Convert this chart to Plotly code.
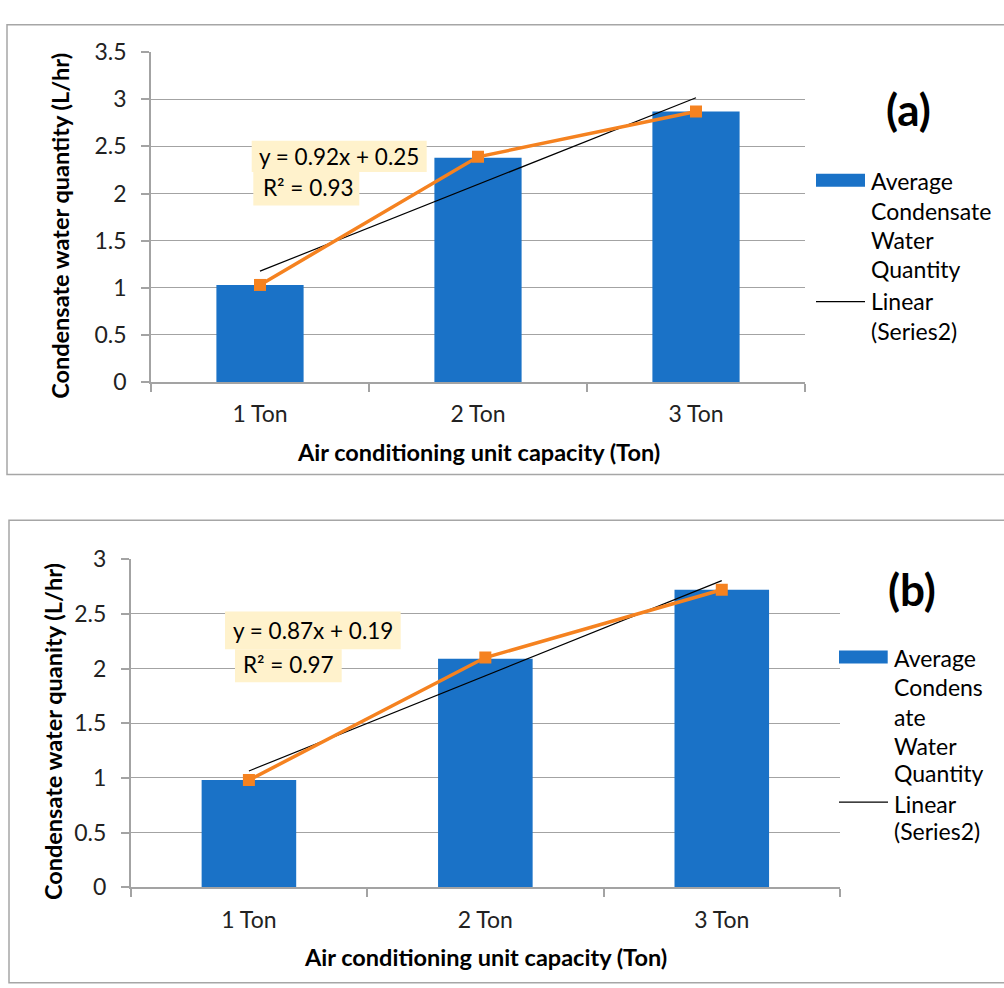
import numpy as np
import plotly.graph_objects as go

# ---------------- data ----------------
categories = ["1 Ton", "2 Ton", "3 Ton"]
capacity_index = [1, 2, 3]
avg_condensate_a = [1.03, 2.38, 2.87]   # bars, panel (a)
series2_a = [1.03, 2.39, 2.87]          # orange line, panel (a)
avg_condensate_b = [0.98, 2.09, 2.72]   # bars, panel (b)
series2_b = [0.98, 2.10, 2.72]          # orange line, panel (b)
y_ticks_a = [0, 0.5, 1, 1.5, 2, 2.5, 3, 3.5]
y_ticks_b = [0, 0.5, 1, 1.5, 2, 2.5, 3]
eq_a = ["y = 0.92x + 0.25", "R² = 0.93"]
eq_b = ["y = 0.87x + 0.19", "R² = 0.97"]
legend_a = ["Average", "Condensate", "Water", "Quantity"]
legend_b = ["Average", "Condens", "ate", "Water", "Quantity"]
trend_label = ["Linear", "(Series2)"]

W, H = 1004, 988
FONT = "Lato"
BLUE = "#1A72C7"
ORANGE = "#F58220"
GRID = "#A3A3A3"


def X(px):
    return px / W


def Y(py):
    return 1 - py / H


def trend(vals):
    k, b = np.polyfit(capacity_index, vals, 1)
    return [k * x + b for x in capacity_index]


fig = go.Figure()

panels = [
    dict(xa="x", ya="y", bars=avg_condensate_a, line=series2_a),
    dict(xa="x2", ya="y2", bars=avg_condensate_b, line=series2_b),
]
for p in panels:
    fig.add_trace(go.Bar(x=categories, y=p["bars"], width=0.4, marker=dict(color=BLUE, line=dict(width=0)),
                         xaxis=p["xa"], yaxis=p["ya"], showlegend=False))
    fig.add_trace(go.Scatter(x=categories, y=trend(p["line"]), mode="lines",
                             line=dict(color="black", width=1.2),
                             xaxis=p["xa"], yaxis=p["ya"], showlegend=False))
    fig.add_trace(go.Scatter(x=categories, y=p["line"], mode="lines+markers",
                             line=dict(color=ORANGE, width=3.5),
                             marker=dict(symbol="square", size=12, color=ORANGE),
                             xaxis=p["xa"], yaxis=p["ya"], showlegend=False))

tickfont = dict(family=FONT, size=23, color="#222222")
xcommon = dict(type="category", showgrid=False, showline=True, linecolor=GRID, linewidth=1.5,
               ticks="outside", ticklen=8, tickcolor=GRID, tickwidth=1.5, tickson="boundaries",
               tickfont=tickfont, ticklabelstandoff=11, fixedrange=True)
ycommon = dict(showgrid=True, gridcolor=GRID, gridwidth=1.3, showline=True, linecolor=GRID,
               linewidth=1.5, ticks="outside", ticklen=8, tickcolor=GRID, tickwidth=1.5,
               tickfont=tickfont, ticklabelstandoff=10, zeroline=False, fixedrange=True)

fig.update_layout(
    width=W, height=H, margin=dict(l=0, r=0, t=0, b=0),
    paper_bgcolor="white", plot_bgcolor="white", showlegend=False,
    xaxis=dict(domain=[X(151), X(805)], anchor="y", **xcommon),
    yaxis=dict(domain=[Y(377.7), Y(38.3)], anchor="x", range=[0, 3.5], tickvals=y_ticks_a,
               ticktext=[f"{v:g}" for v in y_ticks_a], **ycommon),
    xaxis2=dict(domain=[X(130.7), X(840)], anchor="y2", **xcommon),
    yaxis2=dict(domain=[Y(897.7), Y(560)], anchor="x2", range=[0, 3], tickvals=y_ticks_b,
                ticktext=[f"{v:g}" for v in y_ticks_b], **ycommon),
)

shapes = []
annotations = []

# panel borders
shapes.append(dict(type="rect", xref="paper", yref="paper", x0=X(7), x1=X(1012), y0=Y(473), y1=Y(10),
                   line=dict(color="#A6A6A6", width=1.5), fillcolor="rgba(0,0,0,0)", layer="below"))
shapes.append(dict(type="rect", xref="paper", yref="paper", x0=X(9), x1=X(1012), y0=Y(996), y1=Y(520),
                   line=dict(color="#A6A6A6", width=1.5), fillcolor="rgba(0,0,0,0)", layer="below"))

txt = dict(family=FONT, size=23, color="black")
eqfont = dict(family=FONT, size=22.5, color="black")
bold_title = dict(family=FONT, size=23.5, color="black", weight="bold")


def add_text(x, y, s, font, xanchor="center", yanchor="middle", angle=0):
    annotations.append(dict(x=X(x), y=Y(y), xref="paper", yref="paper", text=s, showarrow=False,
                            font=font, xanchor=xanchor, yanchor=yanchor, textangle=angle, borderpad=0))


# equation boxes
eq_specs = [
    (eq_a, [(251.7, 426.7, 129.3, 161.7), (253.3, 359.3, 161.7, 196)], [258, 262], [146, 178]),
    (eq_b, [(225, 400.7, 614, 652.7), (235, 341.7, 652.7, 686.7)], [232, 242], [633, 668]),
]
for lines, boxes, xs, ys in eq_specs:
    for (x0, x1, y0, y1) in boxes:
        shapes.append(dict(type="rect", xref="paper", yref="paper", x0=X(x0), x1=X(x1), y0=Y(y1), y1=Y(y0),
                           line=dict(width=0), fillcolor="#FFF2CC", layer="above"))
    for s, xx, yy in zip(lines, xs, ys):
        add_text(xx, yy, s, eqfont, xanchor="left")

# axis titles
add_text(478, 450, "Air conditioning unit capacity (Ton)", bold_title)
add_text(485, 969, "Air conditioning unit capacity (Ton)", bold_title)
add_text(60, 217, "Condensate water quantity (L/hr)", bold_title, angle=-90)
add_text(53, 738, "Condensate water quanity (L/hr)", bold_title, angle=-90)

# panel labels
big = dict(family=FONT, size=44, color="black", weight="bold")
add_text(908, 97, "(a)", big)
add_text(911.7, 591, "(b)", big)

# legends (custom, as in the original layout)
shapes.append(dict(type="rect", xref="paper", yref="paper", x0=X(816), x1=X(865), y0=Y(176.7), y1=Y(163.3),
                   line=dict(width=0), fillcolor=BLUE))
shapes.append(dict(type="line", xref="paper", yref="paper", x0=X(816), x1=X(865), y0=Y(295), y1=Y(295),
                   line=dict(color="black", width=1.2)))
for s, yy in zip(legend_a + trend_label, [170.7, 201.7, 231.7, 261.7, 294, 325]):
    add_text(870, yy, s, txt, xanchor="left")

shapes.append(dict(type="rect", xref="paper", yref="paper", x0=X(839), x1=X(887.7), y0=Y(667.3), y1=Y(654),
                   line=dict(width=0), fillcolor=BLUE))
shapes.append(dict(type="line", xref="paper", yref="paper", x0=X(839), x1=X(888), y0=Y(810), y1=Y(810),
                   line=dict(color="black", width=1.2)))
for s, yy in zip(legend_b + trend_label, [661.7, 691.7, 722.7, 752.5, 780.5, 811.5, 840]):
    add_text(893.3, yy, s, txt, xanchor="left")

fig.update_layout(shapes=shapes, annotations=annotations)
fig.write_html("out.html", config={"displayModeBar": False},
               post_script="document.body.style.margin='0';document.body.style.overflow='hidden';")
